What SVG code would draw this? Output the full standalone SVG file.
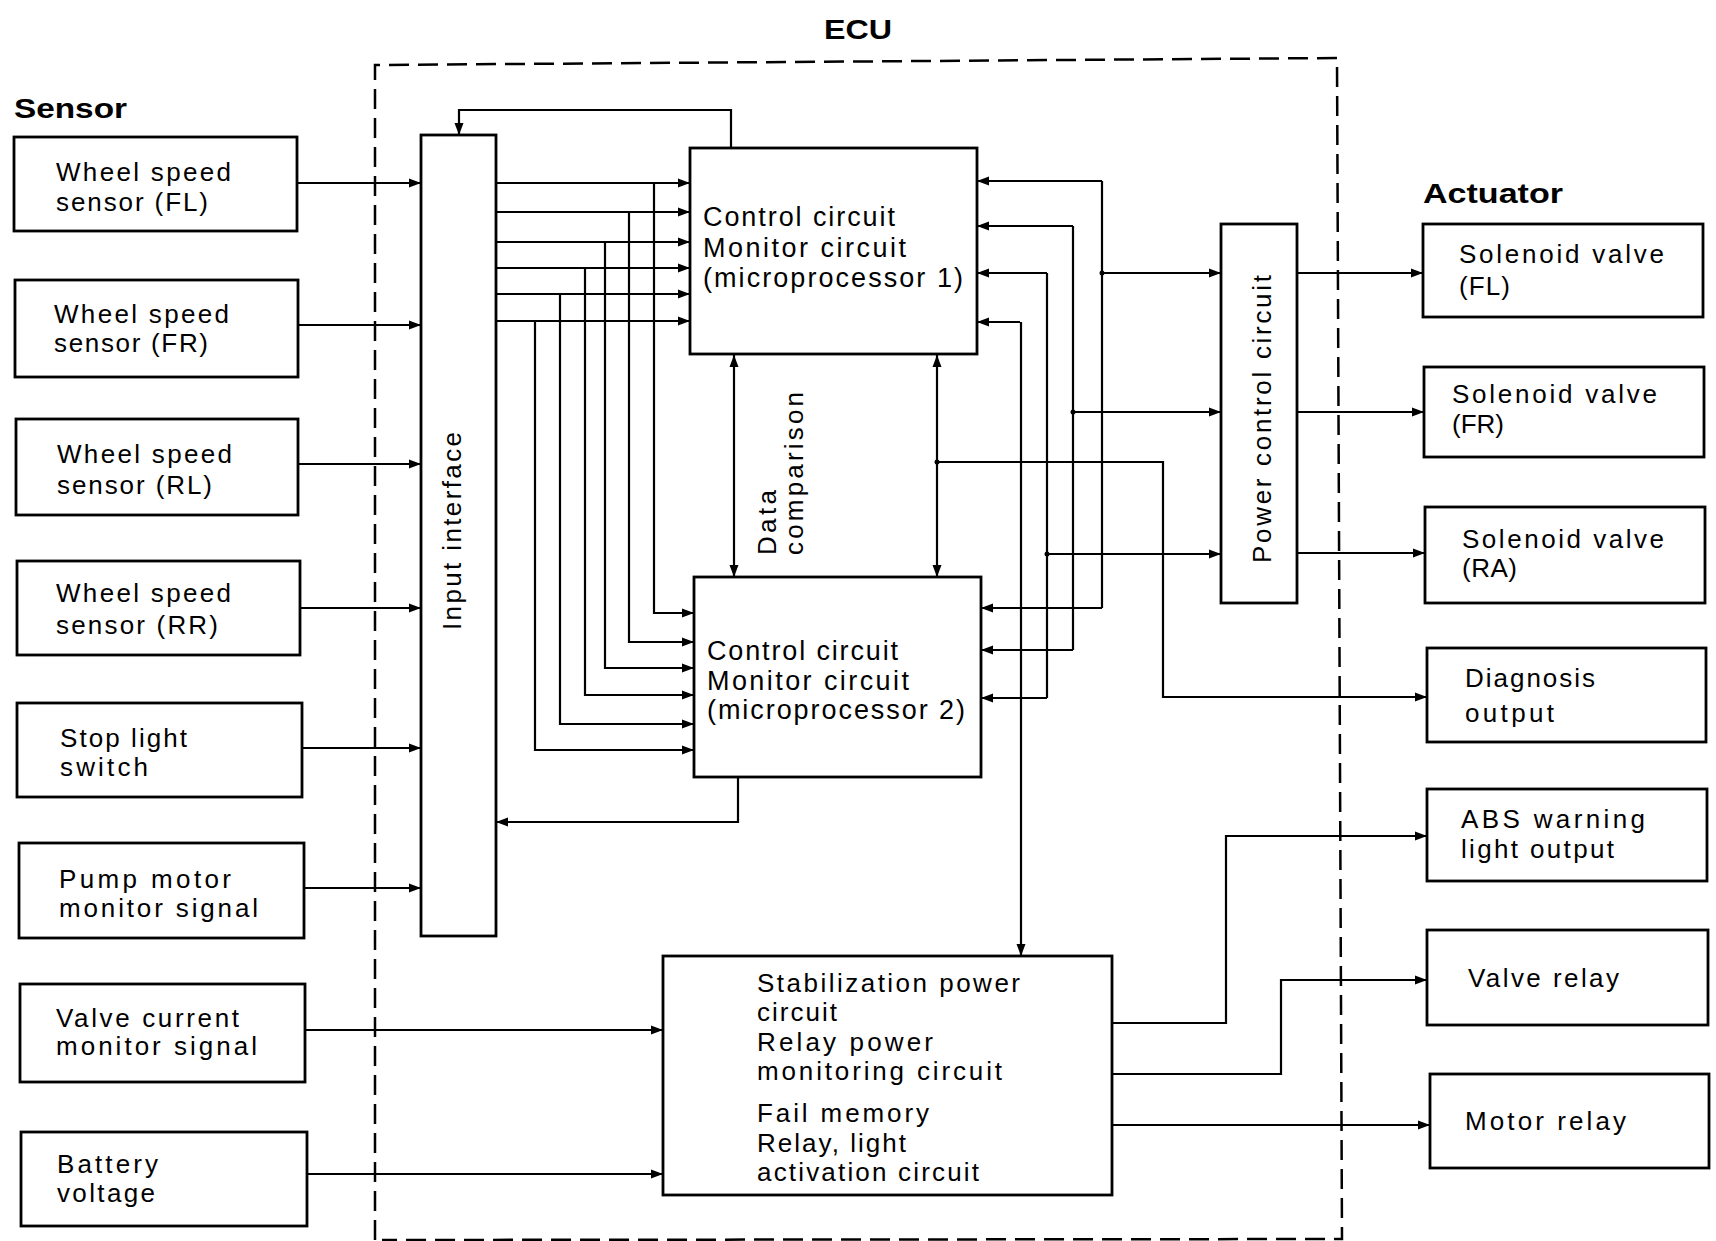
<svg xmlns="http://www.w3.org/2000/svg" width="1716" height="1241" viewBox="0 0 1716 1241">
<defs>
<marker id="ah" markerUnits="userSpaceOnUse" markerWidth="13" markerHeight="10" refX="12" refY="5" orient="auto-start-reverse">
<path d="M0,0.5 L12,5 L0,9.5 z" fill="#000"/>
</marker>
<style>
.box{fill:#fff;stroke:#000;stroke-width:2.8}
.ln{fill:none;stroke:#000;stroke-width:2.2}
.ar{fill:none;stroke:#000;stroke-width:2.2;marker-end:url(#ah)}
.da{fill:none;stroke:#000;stroke-width:2.2;marker-start:url(#ah);marker-end:url(#ah)}
.t{font-family:"Liberation Sans",Arial,Helvetica,sans-serif;font-size:26px;fill:#000}
.tm{font-family:"Liberation Sans",Arial,Helvetica,sans-serif;font-size:27px;fill:#000}
.h{font-family:"Liberation Sans",Arial,Helvetica,sans-serif;font-size:28px;font-weight:bold;fill:#000}
.ecu{fill:none;stroke:#000;stroke-width:2.5;stroke-dasharray:20 9}
.dot{fill:#000}
</style>
</defs>
<rect width="1716" height="1241" fill="#fff"/>

<!-- ECU dashed boundary -->
<g id="ecu-boundary">
<path class="ecu" d="M375,1240 L375,65 L1337,58 L1342,1239 L382,1240"/>
<text class="h" x="824" y="39" font-size="30" textLength="68" lengthAdjust="spacingAndGlyphs">ECU</text>
</g>

<g id="labels">
<text class="h" x="14" y="118" textLength="113" lengthAdjust="spacingAndGlyphs">Sensor</text>
<text class="h" x="1423" y="203" textLength="140" lengthAdjust="spacingAndGlyphs">Actuator</text>
</g>

<!-- Connectors -->
<g id="connectors">
<!-- sensors to input interface -->
<path class="ar" d="M297,183 H421"/>
<path class="ar" d="M298,325 H421"/>
<path class="ar" d="M298,464 H421"/>
<path class="ar" d="M300,608 H421"/>
<path class="ar" d="M302,748 H421"/>
<path class="ar" d="M304,888 H421"/>
<path class="ar" d="M305,1030 H663"/>
<path class="ar" d="M307,1174 H663"/>

<!-- input interface to mp1 -->
<path class="ar" d="M496,183 H690"/>
<path class="ar" d="M496,212 H690"/>
<path class="ar" d="M496,242 H690"/>
<path class="ar" d="M496,268 H690"/>
<path class="ar" d="M496,294 H690"/>
<path class="ar" d="M496,321 H690"/>
<!-- branches to mp2 -->
<path class="ar" d="M654,183 V613 H694"/>
<path class="ar" d="M629,212 V642 H694"/>
<path class="ar" d="M605,242 V668 H694"/>
<path class="ar" d="M585,268 V695 H694"/>
<path class="ar" d="M560,294 V724 H694"/>
<path class="ar" d="M535,321 V750 H694"/>

<!-- feedback to input interface -->
<path class="ar" d="M731,148 V110 H459 V135"/>
<path class="ar" d="M738,777 V822 H496"/>

<!-- data comparison -->
<path class="da" d="M734,355 V577"/>
<path class="da" d="M937,355 V577"/>

<!-- diagnosis output -->
<path class="ar" d="M937,462 H1163 V697 H1427"/>

<!-- right side bus -->
<path class="ln" d="M1102,181 V608"/>
<path class="ar" d="M1102,181 H977"/>
<path class="ar" d="M1102,608 H981"/>
<path class="ar" d="M1102,273 H1221"/>

<path class="ln" d="M1073,226 V650"/>
<path class="ar" d="M1073,226 H977"/>
<path class="ar" d="M1073,650 H981"/>
<path class="ar" d="M1073,412 H1221"/>

<path class="ln" d="M1047,273 V698"/>
<path class="ar" d="M1047,273 H977"/>
<path class="ar" d="M1047,698 H981"/>
<path class="ar" d="M1047,554 H1221"/>

<path class="ar" d="M1020,322 H977"/>
<path class="ar" d="M1021,322 V956"/>

<circle class="dot" cx="1102" cy="273" r="2.5"/>
<circle class="dot" cx="1073" cy="412" r="2.5"/>
<circle class="dot" cx="1047" cy="554" r="2.5"/>
<circle class="dot" cx="937" cy="462" r="2.5"/>

<!-- power control to solenoids -->
<path class="ar" d="M1297,273 H1423"/>
<path class="ar" d="M1297,412 H1424"/>
<path class="ar" d="M1297,553 H1425"/>

<!-- stabilization box to actuators -->
<path class="ar" d="M1112,1023 H1226 V836 H1427"/>
<path class="ar" d="M1112,1074 H1281 V980 H1427"/>
<path class="ar" d="M1112,1125 H1430"/>
</g>

<!-- Sensor nodes -->
<g id="sensor-fl">
<rect class="box" x="14" y="137" width="283" height="94"/>
<text class="t" x="56" y="181" textLength="175">Wheel speed</text>
<text class="t" x="56" y="211" textLength="152">sensor (FL)</text>
</g>
<g id="sensor-fr">
<rect class="box" x="15" y="280" width="283" height="97"/>
<text class="t" x="54" y="323" textLength="175">Wheel speed</text>
<text class="t" x="54" y="352" textLength="154">sensor (FR)</text>
</g>
<g id="sensor-rl">
<rect class="box" x="16" y="419" width="282" height="96"/>
<text class="t" x="57" y="463" textLength="175">Wheel speed</text>
<text class="t" x="57" y="494" textLength="155">sensor (RL)</text>
</g>
<g id="sensor-rr">
<rect class="box" x="17" y="561" width="283" height="94"/>
<text class="t" x="56" y="602" textLength="175">Wheel speed</text>
<text class="t" x="56" y="634" textLength="162">sensor (RR)</text>
</g>
<g id="stop-light">
<rect class="box" x="17" y="703" width="285" height="94"/>
<text class="t" x="60" y="747" textLength="127">Stop light</text>
<text class="t" x="60" y="776" textLength="88">switch</text>
</g>
<g id="pump-motor">
<rect class="box" x="19" y="843" width="285" height="95"/>
<text class="t" x="59" y="888" textLength="172">Pump motor</text>
<text class="t" x="59" y="917" textLength="199">monitor signal</text>
</g>
<g id="valve-current">
<rect class="box" x="20" y="984" width="285" height="98"/>
<text class="t" x="56" y="1027" textLength="183">Valve current</text>
<text class="t" x="56" y="1055" textLength="201">monitor signal</text>
</g>
<g id="battery">
<rect class="box" x="21" y="1132" width="286" height="94"/>
<text class="t" x="57" y="1173" textLength="101">Battery</text>
<text class="t" x="57" y="1202" textLength="98">voltage</text>
</g>

<!-- ECU internal nodes -->
<g id="input-interface">
<rect class="box" x="421" y="135" width="75" height="801"/>
<text class="t" transform="translate(461,630) rotate(-90)" textLength="198">Input interface</text>
</g>
<g id="mp1">
<rect class="box" x="690" y="148" width="287" height="206"/>
<text class="tm" x="703" y="226" textLength="192">Control circuit</text>
<text class="tm" x="703" y="257" textLength="203">Monitor circuit</text>
<text class="tm" x="703" y="287" textLength="260">(microprocessor 1)</text>
</g>
<g id="mp2">
<rect class="box" x="694" y="577" width="287" height="200"/>
<text class="tm" x="707" y="660" textLength="191">Control circuit</text>
<text class="tm" x="707" y="690" textLength="202">Monitor circuit</text>
<text class="tm" x="707" y="719" textLength="258">(microprocessor 2)</text>
</g>
<g id="data-comparison">
<text class="t" transform="translate(776,555) rotate(-90)" textLength="65">Data</text>
<text class="t" transform="translate(803,555) rotate(-90)" textLength="163">comparison</text>
</g>
<g id="power-control">
<rect class="box" x="1221" y="224" width="76" height="379"/>
<text class="t" transform="translate(1271,563) rotate(-90)" textLength="288">Power control circuit</text>
</g>
<g id="stabilization">
<rect class="box" x="663" y="956" width="449" height="239"/>
<text class="t" x="757" y="992" textLength="263">Stabilization power</text>
<text class="t" x="757" y="1021" textLength="80">circuit</text>
<text class="t" x="757" y="1051" textLength="176">Relay power</text>
<text class="t" x="757" y="1080" textLength="245">monitoring circuit</text>
<text class="t" x="757" y="1122" textLength="172">Fail memory</text>
<text class="t" x="757" y="1152" textLength="149">Relay, light</text>
<text class="t" x="757" y="1181" textLength="222">activation circuit</text>
</g>

<!-- Actuator nodes -->
<g id="solenoid-fl">
<rect class="box" x="1423" y="224" width="280" height="93"/>
<text class="t" x="1459" y="263" textLength="205">Solenoid valve</text>
<text class="t" x="1459" y="295" textLength="51">(FL)</text>
</g>
<g id="solenoid-fr">
<rect class="box" x="1424" y="367" width="280" height="90"/>
<text class="t" x="1452" y="403" textLength="205">Solenoid valve</text>
<text class="t" x="1452" y="433" textLength="52">(FR)</text>
</g>
<g id="solenoid-ra">
<rect class="box" x="1425" y="507" width="280" height="96"/>
<text class="t" x="1462" y="548" textLength="202">Solenoid valve</text>
<text class="t" x="1462" y="577" textLength="55">(RA)</text>
</g>
<g id="diagnosis">
<rect class="box" x="1427" y="648" width="279" height="94"/>
<text class="t" x="1465" y="687" textLength="130">Diagnosis</text>
<text class="t" x="1465" y="722" textLength="89">output</text>
</g>
<g id="abs-warning">
<rect class="box" x="1427" y="789" width="280" height="92"/>
<text class="t" x="1461" y="828" textLength="184">ABS warning</text>
<text class="t" x="1461" y="858" textLength="153">light output</text>
</g>
<g id="valve-relay">
<rect class="box" x="1427" y="930" width="281" height="95"/>
<text class="t" x="1468" y="987" textLength="151">Valve relay</text>
</g>
<g id="motor-relay">
<rect class="box" x="1430" y="1074" width="279" height="94"/>
<text class="t" x="1465" y="1130" textLength="161">Motor relay</text>
</g>
</svg>
